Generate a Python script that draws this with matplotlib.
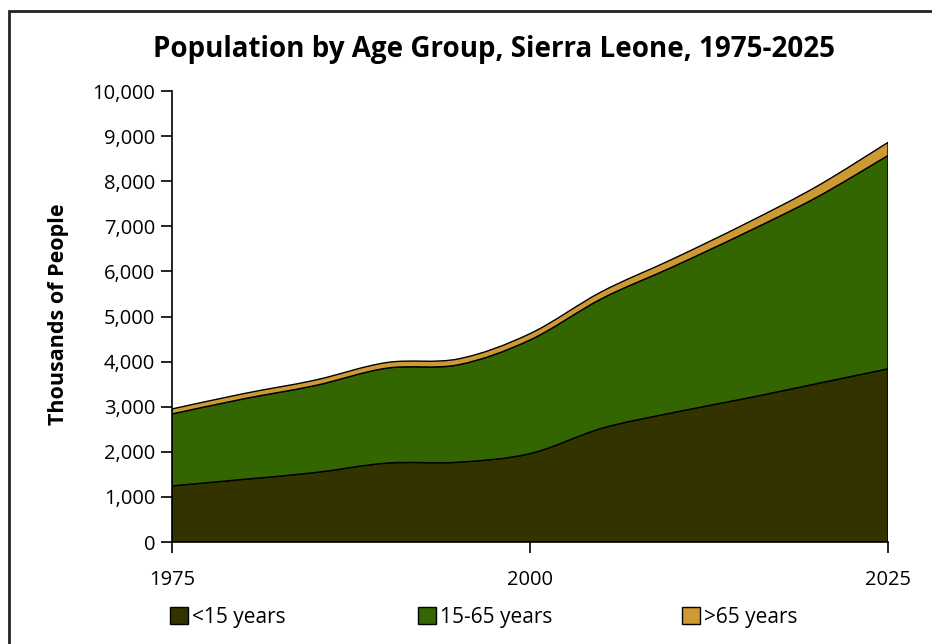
import numpy as np
import matplotlib
matplotlib.use("Agg")
import matplotlib.pyplot as plt
from matplotlib.path import Path
from matplotlib.patches import PathPatch, Patch, Rectangle

years = [1975, 1980, 1985, 1990, 1995, 2000, 2005, 2010, 2015, 2020, 2025]
under15 = [1244, 1390, 1540, 1750, 1770, 1960, 2520, 2870, 3180, 3510, 3840]
age15_65 = [1596, 1785, 1930, 2105, 2160, 2520, 2875, 3235, 3670, 4130, 4730]
over65 = [110, 115, 120, 125, 130, 140, 155, 175, 200, 240, 290]
labels = ["<15 years", "15-65 years", ">65 years"]
colors = ["#333300", "#336600", "#CC9933"]
yticks = [0, 1000, 2000, 3000, 4000, 5000, 6000, 7000, 8000, 9000, 10000]
xticks = [1975, 2000, 2025]

plt.rcParams['font.family'] = ['Open Sans', 'DejaVu Sans']


def bezier_pts(xs, ys):
    """Excel-style smoothed curve as cubic Bezier vertices (Catmull-Rom)."""
    n = len(xs)
    P = np.column_stack([xs, ys]).astype(float)
    verts = [P[0]]
    for i in range(n - 1):
        p0 = P[i - 1] if i > 0 else P[i]
        p1 = P[i]
        p2 = P[i + 1]
        p3 = P[i + 2] if i + 2 < n else P[i + 1]
        c1 = p1 + (p2 - p0) / 6.0
        c2 = p2 - (p3 - p1) / 6.0
        verts += [c1, c2, p2]
    return np.array(verts)


def band_path(xs, lower, upper):
    up = bezier_pts(xs, upper)
    lo = bezier_pts(xs, lower)[::-1]
    verts = list(up) + [lo[0]] + list(lo[1:]) + [up[0]]
    codes = [Path.MOVETO] + [Path.CURVE4] * (len(up) - 1)
    codes += [Path.LINETO] + [Path.CURVE4] * (len(lo) - 1) + [Path.CLOSEPOLY]
    return Path(verts, codes)


fig = plt.figure(figsize=(9.32, 6.44), dpi=100)
ax = fig.add_axes([172 / 932, 1 - 542 / 644, (888 - 172) / 932, (542 - 91) / 644])

x = np.array(years, dtype=float)
s1 = np.array(under15, dtype=float)
s2 = s1 + np.array(age15_65, dtype=float)
s3 = s2 + np.array(over65, dtype=float)
zero = np.zeros_like(x)

for lo, hi, c in [(zero, s1, colors[0]), (s1, s2, colors[1]), (s2, s3, colors[2])]:
    ax.add_patch(PathPatch(band_path(x, lo, hi), facecolor=c, edgecolor="black",
                           linewidth=1.0, joinstyle="round"))

ax.set_xlim(1975, 2025)
ax.set_ylim(0, 10000)
ax.set_yticks(yticks)
ax.set_yticklabels([f"{v:,}" for v in yticks], fontsize=14.5)
ax.set_xticks(xticks)
ax.set_xticklabels([str(v) for v in xticks], fontsize=14.5)
ax.tick_params(axis="y", direction="out", length=8, width=1.2, pad=4)
ax.tick_params(axis="x", direction="out", length=8, width=1.2, pad=12)
for s in ["top", "right"]:
    ax.spines[s].set_visible(False)
for s in ["left", "bottom"]:
    ax.spines[s].set_linewidth(1.2)
ax.set_ylabel("Thousands of People", fontsize=15.5, fontweight="bold")
ax.yaxis.set_label_coords((69 - 172) / 716, (542 - 314) / 451)

fig.text(494 / 932, 1 - 57 / 644, "Population by Age Group, Sierra Leone, 1975-2025",
         ha="center", va="baseline", fontsize=20, fontweight="bold")

marker_x = [170, 418, 682]
for h_x, c, lab in zip(marker_x, colors, labels):
    h = Patch(facecolor=c, edgecolor="black", linewidth=1.0)
    leg = fig.legend([h], [lab], loc="center left",
                     bbox_to_anchor=(h_x / 932, 1 - 617 / 644),
                     frameon=False, fontsize=15, handlelength=0.85, handleheight=0.85,
                     handletextpad=0.2, borderpad=0, borderaxespad=0)

fig.patches.append(Rectangle((9 / 932, -0.05), 1.1, 1 - 11 / 644 + 0.05,
                             transform=fig.transFigure, fill=False,
                             edgecolor="#222222", linewidth=2.0))

fig.savefig("out.png", dpi=100)
